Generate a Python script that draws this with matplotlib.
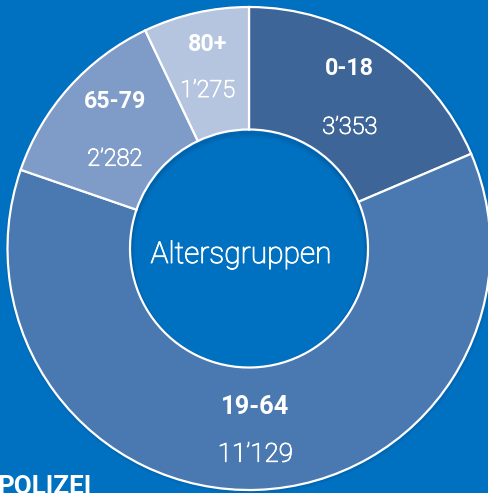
import numpy as np
import matplotlib.pyplot as plt
import matplotlib.patheffects as pe
from matplotlib.patches import Circle, Wedge

plt.rcParams['font.family'] = ['Roboto', 'DejaVu Sans']

# Age groups and counts
groups = ['0-18', '19-64', '65-79', '80+']
counts = [3353, 11129, 2282, 1275]
value_labels = ['3\u2019353', '11\u2019129', '2\u2019282', '1\u2019275']
colors = ['#3d6597', '#4a78b0', '#7f9cc8', '#b5c4df']
center_title = 'Altersgruppen'
footer = 'POLIZEI'

# label layout per wedge: anchor radius, name/value baseline offsets (px), font sizes (px)
label_r = [182.5, 180.3, 180.0, 187.5]
name_dy = [21.0, 14.3, 20.7, 14.6]
value_dy = [37.5, 33.0, 37.0, 31.4]
name_px = [23.2, 25.5, 23.2, 23.2]
value_px = [23.5, 26, 23.5, 23.5]

W, H = 489, 493
bg = '#0070c0'

fig = plt.figure(figsize=(W / 100, H / 100), dpi=100, facecolor=bg)
ax = fig.add_axes([0, 0, 1, 1])
ax.set_facecolor(bg)

cx, cy = 249, H - 248.5
R = 241.5
hole = 119

# soft shadow under the ring
for i in range(3):
    ax.add_patch(Circle((cx + 0.8, cy - 1.2), R + 1 + i, color='#00335f',
                        alpha=0.05, lw=0, zorder=0))

wedges, _ = ax.pie(counts, colors=colors, startangle=90, counterclock=False,
                   radius=R, center=(cx, cy),
                   wedgeprops=dict(width=R - hole, edgecolor='white', linewidth=1.6),
                   frame=True)
# keep the hole in the background colour, with a faint inner shadow at the top
ax.add_patch(Circle((cx, cy), hole - 1, color=bg, lw=0, zorder=0.5))
for i, a in enumerate([0.10, 0.07, 0.04]):
    ax.add_patch(Wedge((cx, cy - 1.5 - i), hole, 0, 360, width=2.5 + i,
                       color='#002a50', alpha=a, lw=0, zorder=0.8))
ax.set_xlim(0, W)
ax.set_ylim(0, H)
ax.set_aspect('equal')
ax.axis('off')

pt = 72 / 100  # px -> pt
thicken = [pe.withStroke(linewidth=0.7, foreground='white')]
for k, (w, name, val) in enumerate(zip(wedges, groups, value_labels)):
    mid = np.deg2rad((w.theta1 + w.theta2) / 2)
    x = cx + label_r[k] * np.cos(mid)
    y = cy + label_r[k] * np.sin(mid)
    ax.text(x, y + name_dy[k], name, ha='center', va='baseline', color='white',
            fontsize=name_px[k] * pt, fontweight='bold', zorder=5)
    ax.text(x, y - value_dy[k], val, ha='center', va='baseline', color='white',
            fontsize=value_px[k] * pt, fontweight='light', zorder=5,
            path_effects=thicken)

ax.text(241, H - 263, center_title, ha='center', va='baseline', color='white',
        fontsize=30 * pt, fontweight='light', zorder=5, path_effects=thicken)

ax.text(-3, H - 475, footer, ha='left', va='top', color='white',
        fontsize=26 * pt, fontweight='bold', zorder=5)

fig.savefig('out.png', dpi=100, facecolor=bg)
